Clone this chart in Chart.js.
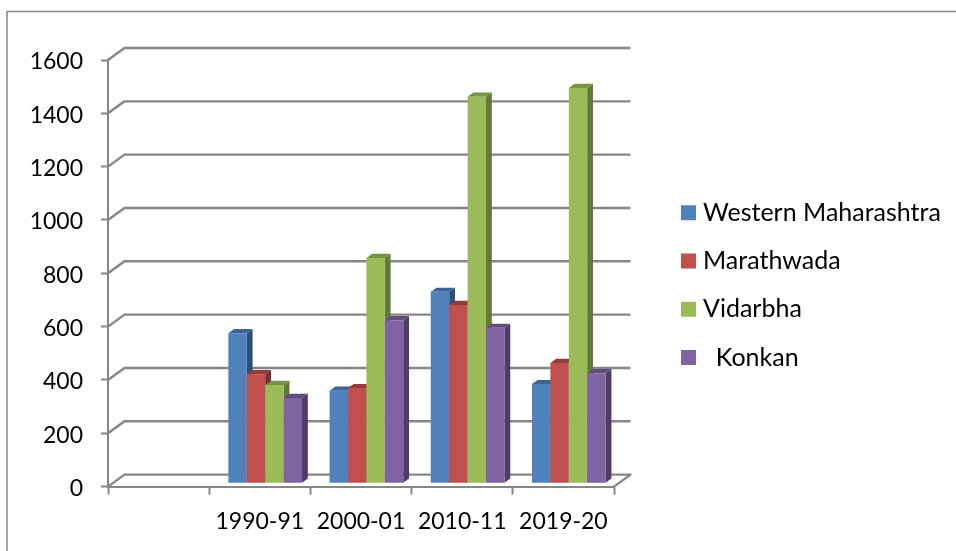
<!DOCTYPE html>
<html>
<head>
<meta charset="utf-8">
<script src="https://cdn.jsdelivr.net/npm/chart.js@4"></script>
<style>html,body{margin:0;padding:0;background:#fff}canvas{display:block}</style>
</head>
<body>
<canvas id="c" width="956" height="551"></canvas>
<script>
const categories = ['', '1990-91', '2000-01', '2010-11', '2019-20'];
const westernMaharashtra = [null, 563, 347, 718, 372];
const marathwada = [null, 409, 357, 669, 451];
const vidarbha = [null, 369, 845, 1450, 1483];
const konkan = [null, 320, 612, 583, 413];
const seriesNames = ['Western Maharashtra', 'Marathwada', 'Vidarbha', '  Konkan'];
const frontColors = ['#4F81BD', '#C0504D', '#9BBB59', '#8064A2'];
const topColors = ['#3C6494', '#953C3A', '#789344', '#624C7E'];
const sideColors = ['#2F4F75', '#763130', '#637939', '#4F3D66'];
const GRID = '#868686';
const FONT = 'Lato, Carlito, "Open Sans", sans-serif';
const WALL = { dx: 16.5, dy: 12 };
const BAR = { dx: 5.4, dy: 3.3, sx: 5.8, sy: 4.2 };

const poly = (ctx, pts, color) => {
  ctx.beginPath();
  pts.forEach((p, i) => i ? ctx.lineTo(p[0], p[1]) : ctx.moveTo(p[0], p[1]));
  ctx.closePath();
  ctx.fillStyle = color;
  ctx.fill();
};

const chart3d = {
  id: 'chart3d',
  beforeDraw(chart) {
    const ctx = chart.ctx;
    ctx.save();
    ctx.strokeStyle = GRID;
    ctx.lineWidth = 1.5;
    ctx.beginPath();
    ctx.moveTo(7, chart.height);
    ctx.lineTo(7, 11.5);
    ctx.lineTo(chart.width, 11.5);
    ctx.stroke();
    ctx.restore();
  },
  afterLayout(chart) {
    const lg = chart.legend;
    const p = lg.options.labels.padding;
    lg.left = 681 + 5.5 - p;
    lg.top = 200.2 - p;
    lg.bottom = chart.height;
    lg.right = chart.width;
  },
  beforeDatasetsDraw(chart) {
    const ctx = chart.ctx, y = chart.scales.y, a = chart.chartArea;
    ctx.save();
    ctx.strokeStyle = GRID;
    ctx.lineWidth = 2.4;
    ctx.lineJoin = 'round';
    y.ticks.forEach((t, i) => {
      const py = y.getPixelForTick(i);
      ctx.beginPath();
      ctx.moveTo(a.left, py);
      ctx.lineTo(a.left + WALL.dx, py - WALL.dy);
      ctx.lineTo(a.right + WALL.dx, py - WALL.dy);
      if (i === 0) ctx.lineTo(a.right, py);
      ctx.stroke();
    });
    ctx.restore();
  },
  beforeDatasetDraw() { return false; },
  afterDatasetsDraw(chart) {
    const ctx = chart.ctx;
    ctx.save();
    ctx.translate(BAR.dx, -BAR.dy);
    chart.data.datasets.forEach((ds, i) => {
      const meta = chart.getDatasetMeta(i);
      meta.data.forEach((bar, j) => {
        if (ds.data[j] == null) return;
        const l = bar.x - bar.width / 2, r = bar.x + bar.width / 2, t = bar.y, b = bar.base;
        poly(ctx, [[l, t], [r, t], [r + BAR.sx, t - BAR.sy], [l + BAR.sx, t - BAR.sy]], topColors[i]);
        poly(ctx, [[r, t], [r + BAR.sx, t - BAR.sy], [r + BAR.sx, b - BAR.sy], [r, b]], sideColors[i]);
      });
      meta.controller.draw();
    });
    ctx.restore();
  }
};

new Chart(document.getElementById('c'), {
  type: 'bar',
  data: {
    labels: categories,
    datasets: [westernMaharashtra, marathwada, vidarbha, konkan].map((data, i) => ({
      label: seriesNames[i],
      data,
      backgroundColor: frontColors[i],
      borderWidth: 0,
      categoryPercentage: 0.728,
      barPercentage: 1
    }))
  },
  plugins: [chart3d],
  options: {
    responsive: false,
    animation: false,
    layout: { padding: { left: 0, top: 60, right: 342, bottom: 0 } },
    scales: {
      x: {
        offset: true,
        afterFit(s) { s.height = 64.4; },
        grid: { drawOnChartArea: false, drawTicks: true, tickLength: 8, tickColor: GRID, tickWidth: 2, offset: true },
        border: { color: GRID, width: 2 },
        ticks: { color: '#000', padding: 13.5, maxRotation: 0, autoSkip: false, font: { family: FONT, size: 23 } }
      },
      y: {
        min: 0,
        max: 1600,
        afterFit(s) { s.width = 108; },
        grid: { drawOnChartArea: false, drawTicks: true, tickLength: 7, tickColor: GRID, tickWidth: 2 },
        border: { color: GRID, width: 2 },
        ticks: {
          color: '#000',
          stepSize: 200,
          padding: 18,
          labelOffset: 2,
          font: { family: FONT, size: 23 },
          callback: v => String(v)
        }
      }
    },
    plugins: {
      tooltip: { enabled: false },
      title: { display: false },
      legend: {
        position: 'chartArea',
        align: 'start',
        labels: {
          color: '#000',
          boxWidth: 4,
          boxHeight: 4,
          padding: 23.3,
          font: { family: FONT, size: 25, lineHeight: 1 },
          generateLabels(chart) {
            return chart.data.datasets.map((ds, i) => ({
              text: ds.label,
              fillStyle: frontColors[i],
              strokeStyle: frontColors[i],
              lineWidth: 11,
              lineJoin: 'miter',
              hidden: false,
              datasetIndex: i
            }));
          }
        }
      }
    }
  }
});
</script>
</body>
</html>
